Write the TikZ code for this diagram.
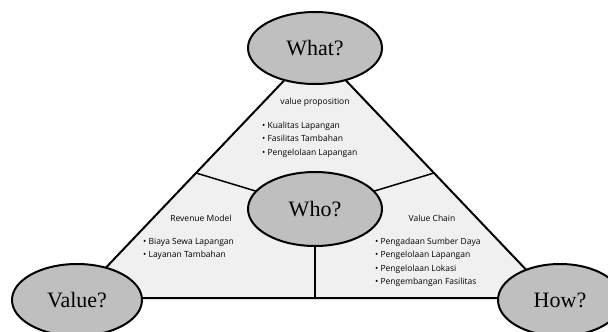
\documentclass[tikz,border=0pt]{standalone}
\usepackage{fontspec}
\setmainfont{Liberation Serif}
\newfontfamily\listfont{Open Sans}
\usetikzlibrary{shapes.geometric}
\usetikzlibrary{calc}

\tikzset{
  question/.style={ellipse, draw, line width=2pt, fill=black!25, inner sep=0pt,
    minimum width=134pt, minimum height=72pt, font=\fontsize{22}{24}\selectfont},
  heading/.style={inner sep=0pt, font=\listfont\fontsize{8.5}{10}\selectfont},
  points/.style={inner sep=0pt, align=left, anchor=north west,
    font=\listfont\fontsize{8.5}{13.2}\selectfont}
}

\begin{document}
\begin{tikzpicture}[x=1pt,y=-1pt]
\useasboundingbox (0,0) rectangle (608,332);

% corners of the triangle
\coordinate (apex) at (315,48);
\coordinate (lcorner) at (77,298);
\coordinate (rcorner) at (553,298);
\coordinate (hub) at (315,209);

% triangle
\draw[line width=2pt, fill=black!6, line join=round] (apex) -- (lcorner) -- (rcorner) -- cycle;

% spokes to the middle of each side
\coordinate (lmid) at ($(apex)!.5!(lcorner)$);
\coordinate (rmid) at ($(apex)!.5!(rcorner)$);
\coordinate (bmid) at ($(lcorner)!.5!(rcorner)$);
\draw[line width=1.5pt] (hub) -- (lmid);
\draw[line width=1.5pt] (hub) -- (rmid);
\draw[line width=1.5pt] (hub) -- (bmid);

% the four questions
\node[question] (what) at (apex) {What?};
\node[question, minimum height=74pt] (who) at (hub) {Who?};
\node[question, minimum width=130pt] (value) at (77,300) {Value?};
\node[question, minimum width=124pt] (how) at (560,300) {How?};

% upper field
\node[heading] (prop) at (315,102) {value proposition};
\node[points] (proplist) at (262,122)
  {\textbullet\ Kualitas Lapangan\\\textbullet\ Fasilitas Tambahan\\\textbullet\ Pengelolaan Lapangan};

% left field
\node[heading] (revenue) at (201,218) {Revenue Model};
\node[points] (revlist) at (143,238)
  {\textbullet\ Biaya Sewa Lapangan\\\textbullet\ Layanan Tambahan};

% right field
\node[heading] (chain) at (432,218) {Value Chain};
\node[points] (chainlist) at (375,238)
  {\textbullet\ Pengadaan Sumber Daya\\\textbullet\ Pengelolaan Lapangan\\\textbullet\ Pengelolaan Lokasi\\\textbullet\ Pengembangan Fasilitas};

\end{tikzpicture}
\end{document}
